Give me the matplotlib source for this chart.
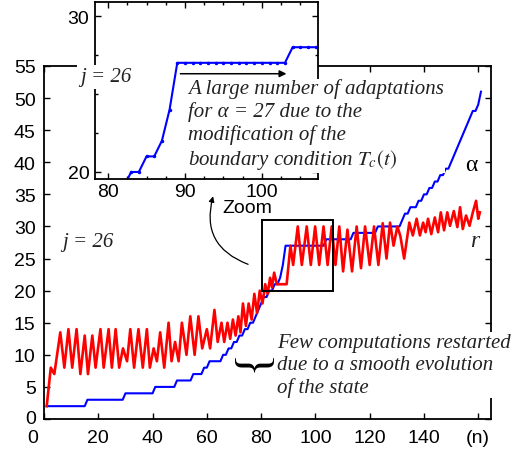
import matplotlib
matplotlib.use("Agg")
import matplotlib.pyplot as plt
import matplotlib.transforms as mtransforms
from matplotlib.patches import Rectangle
from matplotlib.ticker import MultipleLocator

plt.rcParams['font.family'] = ['Liberation Sans', 'DejaVu Sans']
plt.rcParams['mathtext.fontset'] = 'stix'

# alpha : number of the state (one value per iteration n = 1..161)
n = list(range(1, 162))
alpha = [2, 2, 2, 2, 2, 2, 2, 2, 2, 2, 2, 2, 2, 2, 2,
         3, 3, 3, 3, 3, 3, 3, 3, 3, 3, 3, 3, 3, 3,
         4, 4, 4, 4, 4, 4, 4, 4, 4, 4, 4,
         5, 5, 5, 5, 5, 5, 5, 5,
         6, 6, 6, 6, 6, 6,
         7, 7, 7, 7, 8, 8,
         9, 9, 9, 9, 9,
         10, 10, 11, 11, 12, 12, 13, 13, 14, 14, 15, 15,
         16, 17, 18, 19, 19, 20, 20, 21, 21, 22, 24,
         27, 27, 27, 27, 27, 27, 27, 27, 27, 27, 27, 27, 27, 27, 27,
         28, 28, 28, 28, 28, 28, 28, 28, 28, 28,
         29, 29, 29, 29, 29, 29, 29, 29, 29,
         30, 30, 30, 30, 30, 30, 30, 30, 30,
         31, 32, 32, 33, 33, 33, 34, 34, 35, 35, 36, 36, 37, 37, 38, 38, 39, 39,
         40, 41, 42, 43, 44, 45, 46, 47, 48, 48, 49, 51]

# r : zig-zag curve (vertices)
r_n = [1, 2.5, 3.8, 6, 7.5, 9, 10.4, 12, 13.4, 15, 16.2, 17.8, 19,
       20.8, 22, 23.8, 25, 26.4, 27.7, 29.1, 30.6, 31.8, 33.2,
       34.8, 36.4, 37.9, 39, 40.4, 41.6, 42.8, 44.3, 45.9, 47,
       48.3, 49.6, 50.8, 52.5, 53.9, 55.5, 56.9, 58.3, 60, 61.2,
       62.8, 64, 65.4, 66.4, 67.6, 68.6, 69.6, 70.6, 71.6, 72.4,
       73.3, 74.4, 75.4, 76.5, 77.5, 78.5, 79.5, 80.5, 81.5, 82.4,
       83.3, 84, 84.8, 85.8, 89.4, 90.8, 91.8, 93.5, 95, 96.8,
       98.3, 99.9, 101.4, 103, 104.5, 106, 107.4, 108.8, 110.2, 111.8,
       113.5, 115.2, 116.8, 118.3, 120, 121.6, 123.2, 124.8, 126.2, 127.5,
       128.8, 130.2, 131.3, 132.7, 134.6, 135.9, 137.3, 138.5, 139.7, 140.6,
       141.5, 142.7, 144, 145.2, 146.2, 147.4, 148.6, 149.6, 151, 152.3,
       153.3, 154.3, 155.5, 156.8, 158, 159.2, 160, 160.6]
r_v = [2, 8, 7, 13.5, 8, 14, 8, 14, 7, 13, 7, 13, 8,
       14, 8, 14, 8, 14, 8, 11, 9, 14, 8,
       14, 8, 14, 8, 11, 9, 13.5, 8, 15, 9,
       12, 9, 15, 10, 16, 10, 16, 11, 14, 11,
       17, 12, 15, 12, 15, 12.5, 15.5, 13, 16, 13.5,
       18, 14.5, 18, 15.5, 19.5, 16.5, 20, 18, 21, 19.5,
       22, 20.5, 22.8, 21, 21, 27, 24, 30, 24, 30,
       24, 30, 24, 30, 24, 30, 24, 30, 23, 29.5,
       23, 30, 23.5, 30, 24, 30, 24, 30.5, 25, 30.6,
       27, 30, 28.5, 25, 30.6, 28.6, 31.2, 28.6, 30.6, 29.1,
       31.2, 28.8, 31.4, 29.1, 32.2, 29.4, 32.2, 30.1, 32.4, 29.9,
       33, 29.6, 31.7, 30.1, 32.2, 34, 31.2, 32.2]

x_ticks = [0, 20, 40, 60, 80, 100, 120, 140, 160]
x_labels = ['0', '20', '40', '60', '80', '100', '120', '140', '(n)']
y_ticks = [0, 5, 10, 15, 20, 25, 30, 35, 40, 45, 50, 55]

BLUE = '#0000ff'
RED = '#ff0000'
TXT = '#222222'
serif = ['Liberation Serif', 'DejaVu Serif']

fig = plt.figure(figsize=(5.16, 4.52), dpi=100)
ax = fig.add_axes([44/516, 32/452, 447/516, 353/452])
ax.plot(n, alpha, color=BLUE, lw=1.5)
ax.plot(r_n, r_v, color=RED, lw=1.9)
ax.set_xlim(0, 164.7)
ax.set_ylim(0, 55)
ax.set_xticks(x_ticks)
ax.set_xticklabels(x_labels)
ax.set_yticks(y_ticks)
ax.tick_params(direction='in', top=True, right=True, length=4, width=1,
               labelsize=14, colors='k')
ax.tick_params(axis='x', pad=7)
ax.tick_params(axis='y', pad=6)
for s in ax.spines.values():
    s.set_linewidth(1.3)
lbl0 = ax.get_xticklabels()[0]
lbl0.set_transform(lbl0.get_transform() +
                   mtransforms.ScaledTranslation(-11/100, 0, fig.dpi_scale_trans))
ylbl0 = ax.get_yticklabels()[0]
ylbl0.set_transform(ylbl0.get_transform() +
                    mtransforms.ScaledTranslation(0, 2/100, fig.dpi_scale_trans))

# zoom box and arrow
ax.add_patch(Rectangle((80.4, 20), 26.1, 11, fill=False, ec='k', lw=1.4, zorder=5))
ax.annotate('', xy=(62.3, 34.7), xytext=(75.2, 24.1),
            arrowprops=dict(arrowstyle='-|>', connectionstyle='arc3,rad=-0.45',
                            color='k', lw=0.9, mutation_scale=8, shrinkA=0, shrinkB=0))
ax.text(65.6, 32.9, 'Zoom', fontsize=14, va='center', ha='left')

ax.text(6.7, 27.6, 'j = 26', family=serif, style='italic', fontsize=15,
        va='center', color=TXT)
ax.text(157.6, 39.7, 'α', family=serif, fontsize=17, ha='center', va='center')
ax.text(158.8, 27.8, 'r', family=serif, style='italic', fontsize=17,
        ha='center', va='center', color=TXT)
ax.text(74.9, 8.0, '}', family=serif, fontsize=34,
        rotation=-90, ha='center', va='center')

# inset
ins = fig.add_axes([95/516, 272/452, 223/516, 177/452])
ins.set_facecolor('white')
ins.plot(n, alpha, color=BLUE, lw=1.5, marker='.', ms=3)
ins.set_xlim(78.3, 107.3)
ins.set_ylim(19.55, 30.9)
ins.set_xticks([80, 90, 100])
ins.set_yticks([20, 30])
ins.xaxis.set_minor_locator(MultipleLocator(2.5))
ins.yaxis.set_minor_locator(MultipleLocator(2.5))
ins.tick_params(which='both', direction='in', top=True, right=True, width=1)
ins.tick_params(which='major', length=4, labelsize=14)
ins.tick_params(which='minor', length=2.5)
ins.tick_params(axis='x', pad=3)
ins.tick_params(axis='y', pad=4)
for s in ins.spines.values():
    s.set_linewidth(1.3)
ins.annotate('', xy=(103.2, 26.3), xytext=(89.4, 26.3),
             arrowprops=dict(arrowstyle='-|>', color='k', lw=1.1, mutation_scale=10,
                             shrinkA=0, shrinkB=0))

# texts on top
fig.text(80/516, 1 - 78/452, 'j = 26', family=serif, style='italic', fontsize=15,
         va='center', ha='left', color=TXT,
         bbox=dict(fc='white', ec='none', pad=2))
fig.text(188/516, 1 - 79/452,
         'A large number of adaptations\nfor α = 27 due to the\n'
         'modification of the\nboundary condition $T_c(t)$',
         family=serif, style='italic', fontsize=15, va='top', ha='left',
         color=TXT, linespacing=1.2, bbox=dict(fc='white', ec='none', pad=1))
fig.text(277/516, 1 - 334/452,
         'Few computations restarted\ndue to a smooth evolution\nof the state',
         family=serif, style='italic', fontsize=15, va='top', ha='left',
         color=TXT, linespacing=1.2, bbox=dict(fc='white', ec='none', pad=1))

fig.savefig('out.png', dpi=100)
